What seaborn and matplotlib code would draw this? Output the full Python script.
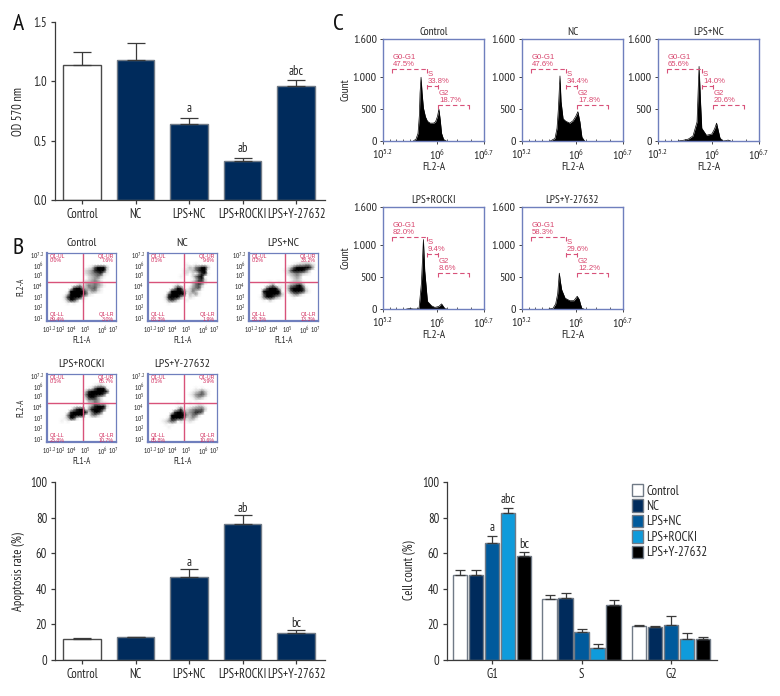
import matplotlib
matplotlib.use("Agg")
import numpy as np
import pandas as pd
import matplotlib.pyplot as plt
import seaborn as sns

sns.set_theme(style="ticks")
plt.rcParams['font.family'] = ['PT Sans Narrow', 'Roboto Condensed', 'Liberation Sans', 'DejaVu Sans']
plt.rcParams['mathtext.default'] = 'regular'

W, H = 780, 696
groups = ['Control', 'NC', 'LPS+NC', 'LPS+ROCKI', 'LPS+Y-27632']
bar_colors = ['#ffffff', '#002b5c', '#002b5c', '#002b5c', '#002b5c']
hue_colors = ['#ffffff', '#002b5c', '#005a9c', '#0f9bdb', '#000000']

# panel A
od_vals = [1.135, 1.177, 0.64, 0.325, 0.96]
od_tops = [1.25, 1.326, 0.695, 0.356, 1.012]
od_marks = ['', '', 'a', 'ab', 'abc']
# lower left
apo_vals = [11.6, 12.7, 46.6, 76.3, 15.3]
apo_tops = [12.1, 13.2, 51.1, 81.2, 16.8]
apo_marks = ['', '', 'a', 'ab', 'bc']
# lower right
phases = ['G1', 'S', 'G2']
cc_control = [47.6, 34.1, 19.0]
cc_nc = [47.6, 34.7, 18.7]
cc_lps = [65.7, 16.0, 19.6]
cc_rocki = [82.5, 6.9, 11.8]
cc_y = [58.4, 31.0, 11.8]
cc_control_top = [50.7, 36.4, 19.4]
cc_nc_top = [50.7, 37.9, 18.9]
cc_lps_top = [69.8, 17.2, 24.6]
cc_rocki_top = [85.6, 9.0, 15.3]
cc_y_top = [60.4, 33.6, 12.7]
cc_marks = {(0, 2): 'a', (0, 3): 'abc', (0, 4): 'bc'}

# scatter density read by eye, one string per row of the plot area
dots_control = ['', '', '', '', '', '.............1268993', '............23479982', '............23456721',
                '.............234531', '.............23431', '...........1334542', '.........24.3545431',
                '........7994345631', '.......89999524421', '......399999621', '.....27999831',
                '.....14874.1', '......1.1']
dots_nc = ['', '', '', '', '............1..1', '............13256983', '...........12235799', '...........12.2.4781',
           '..........1...2578', '...............3672', '..............35762', '........13....3563',
           '........4971.24561', '.......8999622531', '......699998.3241', '.....2899941.21',
           '.....15752..1', '......1']
dots_lps = ['', '', '', '.................1', '..............12334421', '............136899985', '...........126899863',
            '............23454321', '.............2343', '..............232', '......1..1...23331',
            '......25..1.245784', '.....689831.3789972', '....899999..26998731', '....6999973..24531',
            '...15897431...1', '....1.31']
dots_rocki = ['', '', '', '', '...............1231', '.............1269981', '............37999997',
              '............5999996', '............379742', '............144542', '...........1.2354221',
              '.........1...2479982', '........4798.489996', '.......79999925996', '......599998.14531',
              '.....13872.1', '....1.1']
dots_y = ['', '', '', '', '', '...............1.1', '..............123531', '.............1245641',
          '..............13431', '...............1', '.........1...1..1', '..........1...12331',
          '.........37.2345563', '........7996345776', '.......8999943552', '......2899962342',
          '....12465.2.121', '.....1.1', '......1']
quad_control = ['0.0%', '7.6%', '89.4%', '3.0%']
quad_nc = ['0.1%', '9.6%', '88.3%', '1.9%']
quad_lps = ['0.2%', '33.2%', '53.3%', '13.3%']
quad_rocki = ['0.1%', '65.7%', '23.8%', '10.7%']
quad_y = ['0.1%', '3.9%', '85.8%', '10.6%']
scat_ytick_pos = [.03, .18, .33, .49, .65, .80, .96]
scat_yticks = ['10$^{7.2}$', '10$^{6}$', '10$^{5}$', '10$^{4}$', '10$^{3}$', '10$^{2}$', '10$^{1}$']
scat_xtick_pos = [.03, .19, .35, .55, .80, .97]
scat_xticks = ['10$^{1.2}$', '10$^{2}$', '10$^{4}$', '10$^{5}$', '10$^{6}$', '10$^{7}$']

# DNA histograms
hist_control_x = [5.65, 5.69, 5.72, 5.74, 5.75, 5.765, 5.78, 5.80, 5.83, 5.86, 5.90, 5.95, 5.98, 6.01, 6.03, 6.05, 6.07, 6.10, 6.14]
hist_control_y = [0, 30, 120, 400, 750, 1000, 760, 520, 380, 310, 280, 280, 300, 390, 500, 330, 120, 25, 0]
hist_nc_x = [5.62, 5.69, 5.72, 5.74, 5.764, 5.78, 5.81, 5.85, 5.91, 5.96, 6.0, 6.03, 6.06, 6.09, 6.13]
hist_nc_y = [0, 40, 200, 500, 1020, 620, 350, 310, 280, 320, 390, 460, 300, 60, 0]
hist_lps_x = [5.50, 5.57, 5.65, 5.72, 5.78, 5.80, 5.81, 5.83, 5.85, 5.92, 6.0, 6.04, 6.07, 6.12, 6.16, 6.21, 6.24, 6.28]
hist_lps_y = [0, 10, 30, 80, 300, 900, 1170, 650, 200, 90, 110, 190, 280, 50, 0, 5, 15, 0]
hist_rocki_x = [5.55, 5.6, 5.65, 5.72, 5.736, 5.77, 5.80, 5.82, 5.86, 5.92, 5.97, 6.03, 6.07, 6.12, 6.15]
hist_rocki_y = [0, 8, 0, 0, 20, 400, 1090, 600, 120, 50, 25, 40, 80, 5, 0]
hist_y_x = [5.60, 5.66, 5.70, 5.73, 5.754, 5.77, 5.79, 5.84, 5.91, 5.97, 6.02, 6.05, 6.07, 6.09, 6.12]
hist_y_y = [0, 10, 80, 240, 563, 430, 300, 170, 130, 130, 200, 150, 70, 10, 0]
gates_control = ['47.5%', '33.8%', '18.7%']
gates_nc = ['47.6%', '34.4%', '17.8%']
gates_lps = ['65.6%', '14.0%', '20.6%']
gates_rocki = ['82.0%', '9.4%', '8.6%']
gates_y = ['58.3%', '29.6%', '12.2%']

AXC = '#3a3a3a'
BLUE = '#6f7fbd'
PINK = '#d8527a'
TEXT = '#262626'
FS = 9.0


def px_axes(x0, y0, x1, y1):
    return fig.add_axes([x0 / W, 1 - y1 / H, (x1 - x0) / W, (y1 - y0) / H])


def style_bars(ax):
    sns.despine(ax=ax)
    for s in ['left', 'bottom']:
        ax.spines[s].set_color(AXC)
        ax.spines[s].set_linewidth(0.9)
    ax.tick_params(axis='both', colors=AXC, labelcolor=TEXT, labelsize=FS, length=3.2, width=0.9, pad=2.5)
    ax.set_xlabel('')
    ax.set_ylabel('')
    ax.patch.set_alpha(0)


def simple_bars(ax, vals, tops, marks, ymax, ticks, ticklabels, mark_gap):
    sns.barplot(x=groups, y=vals, hue=groups, palette=bar_colors, legend=False, width=0.7,
                edgecolor='#707a86', linewidth=1.0, ax=ax, saturation=1)
    ax.patches[0].set_edgecolor('#4a4a4a')
    pos = np.arange(len(vals))
    vals = np.array(vals)
    ax.errorbar(pos, vals, yerr=[vals * 0, np.array(tops) - vals], fmt='none', ecolor='#3a3a3a',
                elinewidth=0.9, capsize=6.5, capthick=0.9, zorder=1)
    for i, m in enumerate(marks):
        if m:
            ax.text(i, tops[i] + mark_gap, m, ha='center', va='bottom', fontsize=FS, color=TEXT)
    ax.set_xlim(-0.505, 4.54)
    ax.set_ylim(0, ymax)
    ax.set_yticks(ticks)
    ax.set_yticklabels(ticklabels)
    style_bars(ax)


def scatter_panel(x0, y0, rows, title, quad, ylab=False):
    ax = px_axes(x0, y0, x0 + 69, y0 + 68)
    grid = np.array([[0 if c == '.' else int(c) for c in ('.' + r).ljust(23, '.')[:23]]
                     for r in rows + [''] * (23 - len(rows))])
    sns.heatmap(grid, cmap='Greys', vmin=0, vmax=8, cbar=False, ax=ax, xticklabels=False, yticklabels=False,
                shading='gouraud')
    ax.axvline(0.52 * 23, color=PINK, lw=1.0)
    ax.axhline(0.42 * 23, color=PINK, lw=1.0)
    for name, s in ax.spines.items():
        s.set_visible(True)
        s.set_color(BLUE)
        s.set_linewidth(1.6 if name in ['left', 'bottom'] else 0.9)
    ax.set_xticks(np.array(scat_xtick_pos) * 23)
    ax.set_xticklabels(scat_xticks, rotation=0)
    ax.set_yticks(np.array(scat_ytick_pos) * 23)
    ax.set_yticklabels(scat_yticks, rotation=0)
    ax.tick_params(axis='both', length=0, labelsize=5.4, labelcolor=TEXT, pad=2.5)
    ax.set_title(title, fontsize=8.6, color=TEXT, pad=5)
    ax.set_xlabel('FL1-A', fontsize=6.4, color=TEXT, labelpad=0)
    if ylab:
        ax.set_ylabel('FL2-A', fontsize=6.4, color=TEXT, labelpad=3)
    names = ['Q1-UL', 'Q1-UR', 'Q1-LL', 'Q1-LR']
    spots = [(.04, .99, 'left'), (.97, .99, 'right'), (.04, .13, 'left'), (.97, .13, 'right')]
    for n, q, (tx, ty, ha) in zip(names, quad, spots):
        ax.text(tx, ty, n + '\n' + q, transform=ax.transAxes, ha=ha, va='top', fontsize=3.8,
                color='#d02a5c', linespacing=0.95, family=['Liberation Sans', 'DejaVu Sans'])


def hist_panel(x0, y0, xs, ys, title, gates, ylab=False):
    ax = px_axes(x0, y0, x0 + 101, y0 + 102)
    sns.lineplot(x=xs, y=ys, color='black', lw=0.5, ax=ax)
    ax.fill_between(xs, ys, 0, color='black', lw=0)
    ax.set_xlim(5.2, 6.7)
    ax.set_ylim(0, 1600)
    for s in ax.spines.values():
        s.set_color(BLUE)
        s.set_linewidth(1.0)
    ax.set_yticks([0, 500, 1000, 1600])
    ax.set_yticklabels(['0', '500', '1.000', '1.600'])
    ax.set_xticks([5.2, 6, 6.7])
    ax.set_xticklabels(['10$^{5.2}$', '10$^{6}$', '10$^{6.7}$'])
    ax.set_xticks([5.3, 5.4, 5.5, 5.6, 5.7, 5.8, 5.9, 6.15, 6.3, 6.5], minor=True)
    ax.tick_params(axis='both', which='major', length=2.5, width=0.7, color='#444444', labelsize=8.6, labelcolor=TEXT, pad=2)
    ax.tick_params(axis='x', which='minor', direction='in', length=1.5, width=0.6, color='#444444')
    ax.set_title(title, fontsize=8.2, color=TEXT, pad=3)
    ax.set_xlabel('FL2-A', fontsize=8.2, color=TEXT, labelpad=0.5)
    if ylab:
        ax.set_ylabel('Count', fontsize=8.2, color=TEXT, labelpad=1.5)
    else:
        ax.set_ylabel('')
    dash = dict(color=PINK, lw=0.8, ls=(0, (4, 2.5)))
    for (a, b, lev) in [(5.333, 5.849, 1125), (5.859, 6.011, 865), (6.021, 6.479, 562)]:
        ax.plot([a, b], [lev, lev], **dash)
        ax.plot([a, a], [lev - 55, lev + 55], **dash)
        ax.plot([b, b], [lev - 55, lev + 55], **dash)
    kw = dict(fontsize=5.6, color='#d8466e', va='bottom', ha='left', linespacing=1.0,
              family=['Liberation Sans', 'DejaVu Sans'])
    ax.text(5.35, 1140, 'G0-G1\n' + gates[0], **kw)
    ax.text(5.87, 880, 'S\n' + gates[1], **kw)
    ax.text(6.03, 575, 'G2\n' + gates[2], **kw)


fig = plt.figure(figsize=(W / 100, H / 100), dpi=100)

# A
ax_a = px_axes(55, 22, 325, 200)
simple_bars(ax_a, od_vals, od_tops, od_marks, 1.5, [0, 0.5, 1.0, 1.5], ['0.0', '0.5', '1.0', '1.5'], 0.02)
# apoptosis
ax_b = px_axes(55, 482, 325, 660)
simple_bars(ax_b, apo_vals, apo_tops, apo_marks, 100, [0, 20, 40, 60, 80, 100],
            ['0', '20', '40', '60', '80', '100'], 0.3)
# cell cycle
ax_d = px_axes(447, 482, 717, 660)
cc = pd.DataFrame({'phase': phases * 5,
                   'group': [g for g in groups for _ in phases],
                   'value': cc_control + cc_nc + cc_lps + cc_rocki + cc_y})
sns.barplot(data=cc, x='phase', y='value', hue='group', palette=hue_colors, width=0.894, gap=0.1,
            edgecolor='#707a86', linewidth=1.0, saturation=1, ax=ax_d)
cc_tops = [cc_control_top, cc_nc_top, cc_lps_top, cc_rocki_top, cc_y_top]
cc_vals = [cc_control, cc_nc, cc_lps, cc_rocki, cc_y]
for k, cont in enumerate(list(ax_d.containers)):
    xs = [b.get_x() + b.get_width() / 2 for b in cont]
    v = np.array(cc_vals[k])
    ax_d.errorbar(xs, v, yerr=[v * 0, np.array(cc_tops[k]) - v], fmt='none', ecolor='#3a3a3a',
                  elinewidth=0.9, capsize=3.4, capthick=0.9, zorder=1)
    for j in range(3):
        if (j, k) in cc_marks:
            ax_d.text(xs[j], cc_tops[k][j] + 0.8, cc_marks[(j, k)], ha='center', va='bottom', fontsize=FS, color=TEXT)
ax_d.set_xlim(-0.503, 2.514)
ax_d.set_ylim(0, 100)
ax_d.set_yticks([0, 20, 40, 60, 80, 100])
style_bars(ax_d)
hs, ls = ax_d.get_legend_handles_labels()
ax_d.legend(hs, ls, loc='upper left', bbox_to_anchor=((632 - 447) / 270, 1 - (484 - 482) / 178), frameon=False,
            fontsize=FS + 0.4, handlelength=0.85, handleheight=1.05, handletextpad=0.25, labelspacing=0.15,
            borderpad=0, borderaxespad=0, labelcolor=TEXT)

# scatter panels
scatter_panel(47, 253, dots_control, 'Control', quad_control, ylab=True)
scatter_panel(148, 253, dots_nc, 'NC', quad_nc)
scatter_panel(249, 253, dots_lps, 'LPS+NC', quad_lps)
scatter_panel(47, 374, dots_rocki, 'LPS+ROCKI', quad_rocki, ylab=True)
scatter_panel(148, 374, dots_y, 'LPS+Y-27632', quad_y)

# histograms
hist_panel(383, 39, hist_control_x, hist_control_y, 'Control', gates_control, ylab=True)
hist_panel(522, 39, hist_nc_x, hist_nc_y, 'NC', gates_nc)
hist_panel(658, 39, hist_lps_x, hist_lps_y, 'LPS+NC', gates_lps)
hist_panel(383, 207, hist_rocki_x, hist_rocki_y, 'LPS+ROCKI', gates_rocki, ylab=True)
hist_panel(522, 207, hist_y_x, hist_y_y, 'LPS+Y-27632', gates_y)

# labels placed on the figure
for s, x, y in [('OD 570 nm', 19, 111), ('Apoptosis rate (%)', 19, 572), ('Cell count (%)', 410, 570)]:
    fig.text(x / W, 1 - y / H, s, rotation=90, ha='center', va='center', fontsize=FS, color=TEXT)
for s, x, y in [('A', 18, 24), ('B', 18, 248), ('C', 338, 24)]:
    fig.text(x / W, 1 - y / H, s, ha='center', va='center', fontsize=17, color='#111111')

fig.savefig('out.png', dpi=100, facecolor='white')
